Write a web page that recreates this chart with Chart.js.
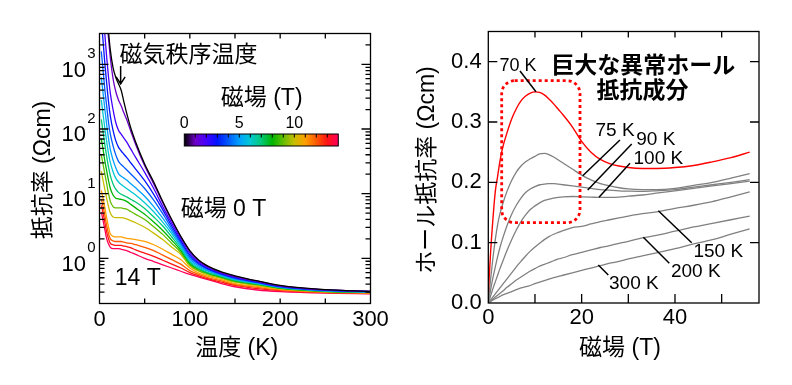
<!DOCTYPE html>
<html><head><meta charset="utf-8">
<script src="https://cdn.jsdelivr.net/npm/chart.js@4.4.1/dist/chart.umd.min.js"></script>
<style>
html,body{margin:0;padding:0;background:#fff;width:792px;height:385px;overflow:hidden}
canvas{position:absolute;top:0}
#cL{left:0}
#cR{left:400px}
</style></head><body>
<canvas id="cL" width="400" height="385"></canvas>
<canvas id="cR" width="392" height="385"></canvas>
<script>
// ---------- Left panel: resistivity vs temperature (log10 of rho in Ohm cm) ----------
const temperatures = [2, 4, 6, 8, 10, 12, 15, 18, 21, 24, 27, 30, 35, 40, 50, 60, 70, 80, 90, 100, 110, 120, 135, 150, 175, 200, 250, 300];
const fields = [0, 1, 2, 3, 4, 5, 6, 7, 8, 9, 10, 11, 12, 13, 14];
const logRho00T = [5.0, 4.6, 4.2, 3.85, 3.5, 3.22, 2.95, 2.8, 2.7, 2.6, 2.42, 2.25, 2.0, 1.8, 1.46, 1.18, 0.88, 0.6, 0.34, 0.12, -0.03, -0.12, -0.21, -0.27, -0.35, -0.42, -0.485, -0.51];
const logRho01T = [4.8, 4.4, 4.0, 3.7, 3.4, 3.1, 2.78, 2.58, 2.45, 2.36, 2.25, 2.15, 1.95, 1.76, 1.43, 1.15, 0.86, 0.58, 0.33, 0.11, -0.04, -0.13, -0.22, -0.28, -0.355, -0.425, -0.487, -0.51];
const logRho02T = [4.2, 3.8, 3.45, 3.1, 2.8, 2.55, 2.3, 2.1, 1.98, 1.92, 1.86, 1.8, 1.68, 1.56, 1.33, 1.08, 0.8, 0.54, 0.30, 0.08, -0.06, -0.14, -0.23, -0.29, -0.36, -0.43, -0.49, -0.512];
const logRho03T = [3.7, 3.35, 3.0, 2.7, 2.42, 2.2, 1.98, 1.82, 1.72, 1.66, 1.61, 1.56, 1.47, 1.38, 1.2, 0.99, 0.75, 0.5, 0.27, 0.05, -0.08, -0.16, -0.24, -0.3, -0.37, -0.435, -0.493, -0.515];
const logRho04T = [3.2, 2.9, 2.6, 2.35, 2.1, 1.92, 1.74, 1.6, 1.5, 1.45, 1.41, 1.37, 1.3, 1.23, 1.08, 0.9, 0.69, 0.46, 0.24, 0.02, -0.1, -0.17, -0.25, -0.31, -0.375, -0.44, -0.495, -0.515];
const logRho05T = [2.8, 2.55, 2.3, 2.06, 1.85, 1.68, 1.52, 1.4, 1.31, 1.27, 1.24, 1.21, 1.15, 1.09, 0.96, 0.8, 0.62, 0.42, 0.21, -0.01, -0.12, -0.19, -0.26, -0.32, -0.38, -0.445, -0.5, -0.52];
const logRho06T = [2.45, 2.22, 2.0, 1.8, 1.62, 1.48, 1.34, 1.24, 1.18, 1.14, 1.11, 1.08, 1.03, 0.98, 0.86, 0.72, 0.56, 0.38, 0.18, -0.04, -0.14, -0.2, -0.27, -0.33, -0.39, -0.45, -0.503, -0.52];
const logRho07T = [2.15, 1.95, 1.75, 1.57, 1.41, 1.28, 1.15, 1.07, 1.02, 0.99, 0.97, 0.95, 0.91, 0.87, 0.77, 0.64, 0.5, 0.33, 0.15, -0.06, -0.16, -0.22, -0.28, -0.34, -0.395, -0.455, -0.506, -0.522];
const logRho08T = [1.85, 1.68, 1.5, 1.35, 1.2, 1.08, 0.98, 0.93, 0.92, 0.91, 0.9, 0.88, 0.83, 0.78, 0.68, 0.56, 0.43, 0.28, 0.12, -0.08, -0.17, -0.23, -0.29, -0.35, -0.4, -0.46, -0.51, -0.525];
const logRho09T = [1.6, 1.45, 1.3, 1.15, 1.0, 0.88, 0.8, 0.78, 0.78, 0.78, 0.77, 0.76, 0.72, 0.68, 0.6, 0.49, 0.37, 0.23, 0.09, -0.1, -0.19, -0.24, -0.3, -0.36, -0.41, -0.465, -0.513, -0.527];
const logRho10T = [1.35, 1.2, 1.06, 0.92, 0.8, 0.7, 0.64, 0.63, 0.63, 0.63, 0.62, 0.61, 0.58, 0.55, 0.48, 0.39, 0.29, 0.17, 0.06, -0.12, -0.2, -0.26, -0.31, -0.37, -0.42, -0.47, -0.516, -0.53];
const logRho11T = [1.05, 0.92, 0.78, 0.62, 0.48, 0.38, 0.34, 0.33, 0.33, 0.33, 0.32, 0.31, 0.3, 0.29, 0.26, 0.21, 0.14, 0.06, -0.02, -0.15, -0.23, -0.28, -0.33, -0.39, -0.435, -0.48, -0.52, -0.533];
const logRho12T = [0.92, 0.8, 0.66, 0.5, 0.38, 0.3, 0.27, 0.26, 0.26, 0.26, 0.25, 0.24, 0.23, 0.21, 0.17, 0.12, 0.05, -0.02, -0.09, -0.19, -0.25, -0.3, -0.35, -0.405, -0.45, -0.49, -0.525, -0.537];
const logRho13T = [0.82, 0.7, 0.55, 0.4, 0.3, 0.23, 0.21, 0.2, 0.2, 0.2, 0.19, 0.18, 0.16, 0.13, 0.08, 0.03, -0.03, -0.09, -0.15, -0.22, -0.27, -0.315, -0.37, -0.42, -0.47, -0.5, -0.53, -0.54];
const logRho14T = [0.72, 0.58, 0.44, 0.3, 0.22, 0.17, 0.15, 0.15, 0.15, 0.14, 0.13, 0.12, 0.09, 0.06, 0.0, -0.05, -0.1, -0.15, -0.2, -0.25, -0.29, -0.33, -0.39, -0.44, -0.49, -0.515, -0.54, -0.55];
const logRhoByField = [logRho00T, logRho01T, logRho02T, logRho03T, logRho04T, logRho05T, logRho06T, logRho07T, logRho08T, logRho09T, logRho10T, logRho11T, logRho12T, logRho13T, logRho14T];

// ---------- Right panel: Hall resistivity vs field ----------
const hallField = [0, 0.5, 1, 1.5, 2, 2.5, 3, 4, 5, 6, 7, 8, 9, 10, 11, 12, 13, 14, 15, 16, 18, 20, 22, 24, 26, 28, 30, 33, 36, 40, 44, 48, 52, 56];
const hall70K  = [0.015, 0.085, 0.14, 0.185, 0.21, 0.235, 0.255, 0.282, 0.305, 0.322, 0.335, 0.343, 0.348, 0.35, 0.349, 0.345, 0.338, 0.33, 0.321, 0.312, 0.292, 0.268, 0.25, 0.238, 0.231, 0.227, 0.2245, 0.223, 0.223, 0.2245, 0.228, 0.234, 0.241, 0.25];
const hall75K  = [0, 0.04, 0.075, 0.105, 0.13, 0.148, 0.162, 0.185, 0.203, 0.217, 0.227, 0.234, 0.239, 0.243, 0.247, 0.248, 0.246, 0.242, 0.237, 0.232, 0.222, 0.212, 0.204, 0.198, 0.194, 0.191, 0.189, 0.188, 0.188, 0.19, 0.195, 0.2, 0.207, 0.2145];
const hall90K  = [0, 0.022, 0.042, 0.06, 0.077, 0.092, 0.105, 0.128, 0.147, 0.162, 0.174, 0.183, 0.189, 0.193, 0.196, 0.197, 0.198, 0.198, 0.197, 0.196, 0.194, 0.192, 0.19, 0.188, 0.187, 0.186, 0.1855, 0.185, 0.186, 0.188, 0.192, 0.196, 0.2, 0.2045];
const hall100K = [0, 0.012, 0.024, 0.035, 0.046, 0.057, 0.067, 0.087, 0.105, 0.121, 0.135, 0.146, 0.155, 0.161, 0.166, 0.17, 0.172, 0.174, 0.175, 0.176, 0.1765, 0.176, 0.1755, 0.175, 0.175, 0.1755, 0.177, 0.179, 0.182, 0.186, 0.19, 0.194, 0.198, 0.202];
const hall150K = [0, 0.005, 0.01, 0.015, 0.02, 0.025, 0.03, 0.04, 0.05, 0.06, 0.069, 0.078, 0.086, 0.093, 0.099, 0.105, 0.11, 0.114, 0.117, 0.12, 0.125, 0.127, 0.131, 0.135, 0.138, 0.141, 0.144, 0.148, 0.151, 0.157, 0.162, 0.168, 0.176, 0.184];
const hall200K = [0, 0.003, 0.0065, 0.01, 0.013, 0.016, 0.019, 0.026, 0.032, 0.038, 0.043, 0.048, 0.053, 0.057, 0.061, 0.064, 0.067, 0.07, 0.073, 0.075, 0.08, 0.084, 0.088, 0.092, 0.095, 0.099, 0.102, 0.108, 0.112, 0.119, 0.126, 0.132, 0.138, 0.144];
const hall300K = [0, 0.0025, 0.005, 0.007, 0.009, 0.011, 0.013, 0.016, 0.019, 0.022, 0.025, 0.027, 0.029, 0.032, 0.0345, 0.037, 0.0395, 0.042, 0.044, 0.046, 0.05, 0.054, 0.058, 0.062, 0.066, 0.069, 0.073, 0.078, 0.083, 0.09, 0.098, 0.105, 0.114, 0.123];

// ---------- Tick labels ----------
const leftXTicks = [0, 100, 200, 300];
const leftXTickMarks = [50, 100, 150, 200, 250];
const leftYExponents = [0, 1, 2, 3];
const rightXTicks = [0, 20, 40];
const rightXTickMarks = [10, 20, 30, 40, 50];
const rightYTicks = [0, 0.1, 0.2, 0.3, 0.4];
const colorbarTicks = [0, 5, 10];

// ---------- Styles ----------
const FONT = '"Liberation Sans","Noto Sans CJK JP",sans-serif';
const colorStops = [
  [0, 0, 0], [110, 0, 200], [70, 0, 255], [0, 20, 255], [0, 90, 255],
  [0, 160, 255], [0, 200, 210], [0, 200, 120], [0, 180, 0], [100, 190, 0],
  [200, 190, 0], [255, 160, 0], [255, 90, 0], [255, 20, 20], [255, 0, 90]
];
const rgb = c => `rgb(${c[0]},${c[1]},${c[2]})`;
const GRAY = '#808080';

function text(ctx, s, x, y, size, opt = {}) {
  ctx.font = `${opt.bold ? 'bold ' : ''}${size}px ${FONT}`;
  ctx.fillStyle = '#000';
  ctx.textAlign = opt.align || 'center';
  ctx.textBaseline = 'middle';
  ctx.fillText(s, x, y);
}

// ================= LEFT CHART =================
const leftDecor = {
  id: 'leftDecor',
  afterDatasetsDraw(chart) {
    const { ctx, chartArea: a } = chart;
    const xs = chart.scales.x, ys = chart.scales.y;
    ctx.save();
    ctx.strokeStyle = '#000';
    ctx.lineWidth = 1.3;
    ctx.strokeRect(a.left, a.top, a.right - a.left, a.bottom - a.top);
    ctx.beginPath();
    leftXTickMarks.forEach(v => {
      const p = xs.getPixelForValue(v);
      ctx.moveTo(p, a.bottom); ctx.lineTo(p, a.bottom - 5);
      ctx.moveTo(p, a.top); ctx.lineTo(p, a.top + 5);
    });
    for (let e = -1; e <= 3; e++) {
      for (let m = 1; m <= 9; m++) {
        const v = m * Math.pow(10, e);
        if (v <= 0.2 || v >= 3000) continue;
        const p = ys.getPixelForValue(v);
        const L = m === 1 ? 9 : 5;
        ctx.moveTo(a.left, p); ctx.lineTo(a.left + L, p);
        ctx.moveTo(a.right, p); ctx.lineTo(a.right - L, p);
      }
    }
    ctx.stroke();
    // log tick labels with superscripts
    leftYExponents.forEach(e => {
      const p = ys.getPixelForValue(Math.pow(10, e));
      text(ctx, '10', a.left - 13.5, p + 6.3, 22, { align: 'right' });
      text(ctx, String(e), a.left - 12.2, p - 10.2, 15, { align: 'left' });
    });
    // axis titles
    text(ctx, '温度 (K)', 236.7, 348.3, 23);
    ctx.save();
    ctx.translate(43.3, 170);
    ctx.rotate(-Math.PI / 2);
    text(ctx, '抵抗率 (Ωcm)', 0, 0, 23);
    ctx.restore();
    // annotations
    text(ctx, '磁気秩序温度', xs.getPixelForValue(98.5), ys.getPixelForValue(1340), 23);
    text(ctx, '磁場 0 T', xs.getPixelForValue(137.2), ys.getPixelForValue(5.73), 23);
    text(ctx, '14 T', xs.getPixelForValue(42.4), ys.getPixelForValue(0.492), 23);
    // arrow
    const ax = xs.getPixelForValue(23.4), ay1 = ys.getPixelForValue(940), ay2 = ys.getPixelForValue(500);
    ctx.beginPath();
    ctx.lineWidth = 1.5;
    ctx.moveTo(ax, ay1); ctx.lineTo(ax, ay2);
    ctx.moveTo(ax - 4.5, ay2 - 7); ctx.lineTo(ax, ay2); ctx.lineTo(ax + 4.5, ay2 - 7);
    ctx.stroke();
    // colorbar
    const cb = { x0: 184.3, x1: 338.3, y0: 134, y1: 146 };
    const g = ctx.createLinearGradient(cb.x0, 0, cb.x1, 0);
    colorStops.forEach((c, i) => g.addColorStop(i / (colorStops.length - 1), rgb(c)));
    ctx.fillStyle = g;
    ctx.fillRect(cb.x0, cb.y0, cb.x1 - cb.x0, cb.y1 - cb.y0);
    ctx.lineWidth = 1;
    ctx.strokeStyle = '#000';
    ctx.strokeRect(cb.x0, cb.y0, cb.x1 - cb.x0, cb.y1 - cb.y0);
    ctx.beginPath();
    for (let b = 1; b < 14; b++) {
      const px = cb.x0 + (cb.x1 - cb.x0) * b / 14;
      ctx.moveTo(px, cb.y0); ctx.lineTo(px, cb.y0 + 3.5);
    }
    ctx.stroke();
    colorbarTicks.forEach(b => text(ctx, String(b), cb.x0 + (cb.x1 - cb.x0) * b / 14, 124, 16));
    text(ctx, '磁場 (T)', 261.7, 99, 23);
    ctx.restore();
  }
};

new Chart(document.getElementById('cL'), {
  type: 'line',
  data: {
    datasets: logRhoByField.map((arr, i) => ({
      label: fields[i] + ' T',
      data: temperatures.map((t, j) => ({ x: t, y: Math.pow(10, arr[j]) })),
      borderColor: rgb(colorStops[i]),
      borderWidth: 1.3,
      pointRadius: 0,
      cubicInterpolationMode: 'monotone',
      fill: false
    }))
  },
  options: {
    responsive: false,
    animation: false,
    events: [],
    layout: { padding: { left: 0, top: 33.5, right: 29.5, bottom: 0 } },
    plugins: { legend: { display: false }, tooltip: { enabled: false } },
    scales: {
      x: {
        type: 'linear', min: 0, max: 300,
        afterBuildTicks: s => { s.ticks = leftXTicks.map(v => ({ value: v })); },
        ticks: { font: { family: FONT, size: 22 }, color: '#000', padding: 3.3, maxRotation: 0 },
        grid: { display: false, drawTicks: false },
        border: { display: false },
        afterFit: s => { s.height = 81.5; }
      },
      y: {
        type: 'logarithmic', min: 0.2, max: 3000,
        ticks: { display: false },
        grid: { display: false, drawTicks: false },
        border: { display: false },
        afterFit: s => { s.width = 99.5; }
      }
    }
  },
  plugins: [leftDecor]
});

// ================= RIGHT CHART =================
const rightDecor = {
  id: 'rightDecor',
  afterDatasetsDraw(chart) {
    const { ctx, chartArea: a } = chart;
    const xs = chart.scales.x, ys = chart.scales.y;
    const P = (bx, vy) => [xs.getPixelForValue(bx), ys.getPixelForValue(vy)];
    ctx.save();
    // dotted rounded rectangle
    const [rx0, ry0] = P(2.87, 0.3685), [rx1, ry1] = P(19.65, 0.1331);
    ctx.beginPath();
    ctx.strokeStyle = '#ff0000';
    ctx.lineWidth = 2.8;
    ctx.setLineDash([3, 3]);
    ctx.roundRect(rx0, ry0, rx1 - rx0, ry1 - ry0, 13);
    ctx.stroke();
    ctx.setLineDash([]);
    // frame & ticks
    ctx.strokeStyle = '#000';
    ctx.lineWidth = 1.3;
    ctx.strokeRect(a.left, a.top, a.right - a.left, a.bottom - a.top);
    ctx.beginPath();
    rightXTickMarks.forEach(v => {
      const p = xs.getPixelForValue(v);
      ctx.moveTo(p, a.bottom); ctx.lineTo(p, a.bottom - 9);
      ctx.moveTo(p, a.top); ctx.lineTo(p, a.top + 6);
    });
    rightYTicks.forEach(v => {
      if (v === 0) return;
      const p = ys.getPixelForValue(v);
      ctx.moveTo(a.left, p); ctx.lineTo(a.left + 9, p);
      ctx.moveTo(a.right, p); ctx.lineTo(a.right - 9, p);
    });
    ctx.stroke();
    // leader lines
    const leaders = [
      [6.79, 0.3845, 10.22, 0.3502],
      [28.21, 0.2702, 20.23, 0.211],
      [30.73, 0.2635, 21.3, 0.1873],
      [30.36, 0.2316, 23.72, 0.1752],
      [36.43, 0.153, 43.58, 0.0999],
      [33.21, 0.1089, 38.78, 0.0658],
      [23.57, 0.063, 25.71, 0.0464]
    ];
    ctx.beginPath();
    ctx.lineWidth = 1.5;
    leaders.forEach(([b0, v0, b1, v1]) => {
      const [x0, y0] = P(b0, v0), [x1, y1] = P(b1, v1);
      ctx.moveTo(x0, y0); ctx.lineTo(x1, y1);
    });
    ctx.stroke();
    // labels
    const lab = (s, b, v, size, opt) => { const [x, y] = P(b, v); text(ctx, s, x, y, size, opt); };
    lab('70 K', 6.36, 0.3933, 18);
    lab('75 K', 27.15, 0.2854, 19);
    lab('90 K', 35.89, 0.2702, 19);
    lab('100 K', 36.43, 0.2398, 19);
    lab('150 K', 49.28, 0.085, 19);
    lab('200 K', 44.46, 0.0519, 19);
    lab('300 K', 31.18, 0.0327, 19);
    lab('巨大な異常ホール', 33.21, 0.3917, 23, { bold: true });
    lab('抵抗成分', 33.04, 0.3502, 23, { bold: true });
    // axis titles (canvas offset 400)
    text(ctx, '磁場 (T)', 220, 348.3, 23);
    ctx.save();
    ctx.translate(27.5, 170);
    ctx.rotate(-Math.PI / 2);
    text(ctx, 'ホール抵抗率 (Ωcm)', 0, 0, 23);
    ctx.restore();
    ctx.restore();
  }
};

const hallSeries = [
  [hall70K, '#ff0000', 1.4],
  [hall75K, GRAY, 1.3],
  [hall90K, GRAY, 1.3],
  [hall100K, GRAY, 1.3],
  [hall150K, GRAY, 1.3],
  [hall200K, GRAY, 1.3],
  [hall300K, GRAY, 1.3]
];

new Chart(document.getElementById('cR'), {
  type: 'line',
  data: {
    datasets: hallSeries.map(([arr, col, w]) => ({
      data: hallField.map((b, j) => ({ x: b, y: arr[j] })),
      borderColor: col,
      borderWidth: w,
      pointRadius: 0,
      cubicInterpolationMode: 'monotone',
      fill: false
    }))
  },
  options: {
    responsive: false,
    animation: false,
    events: [],
    layout: { padding: { left: 0, top: 31.5, right: 33, bottom: 0 } },
    plugins: { legend: { display: false }, tooltip: { enabled: false } },
    scales: {
      x: {
        type: 'linear', min: 0, max: 58,
        afterBuildTicks: s => { s.ticks = rightXTicks.map(v => ({ value: v })); },
        ticks: { font: { family: FONT, size: 22 }, color: '#000', padding: 2.1, maxRotation: 0 },
        grid: { display: false, drawTicks: false },
        border: { display: false },
        afterFit: s => { s.height = 82; }
      },
      y: {
        type: 'linear', min: 0, max: 0.45,
        afterBuildTicks: s => { s.ticks = rightYTicks.map(v => ({ value: v })); },
        ticks: { font: { family: FONT, size: 22 }, color: '#000', padding: 6.6, callback: v => Number(v).toFixed(1) },
        grid: { display: false, drawTicks: false },
        border: { display: false },
        afterFit: s => { s.width = 88.3; }
      }
    }
  },
  plugins: [rightDecor]
});
</script>
</body></html>
